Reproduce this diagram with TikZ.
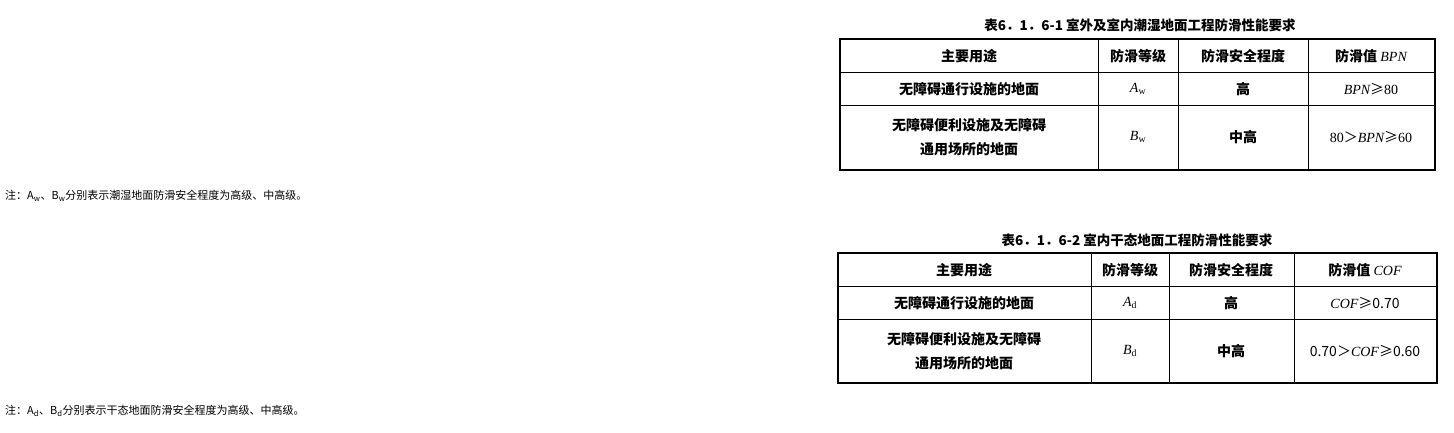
\documentclass[tikz,border=0pt]{standalone}
\usepackage{fontspec}
\setmainfont{Noto Sans CJK SC}
\newfontfamily\ser{Liberation Serif}
\newcommand{\myit}[1]{{\ser\mdseries\itshape #1}}
\newcommand{\myrm}[1]{{\ser\mdseries #1}}
\begin{document}
\begin{tikzpicture}[x=1pt,y=-1pt,
  cell/.style={font=\fontsize{14}{24}\selectfont\bfseries,align=center,inner sep=0},
  ttl/.style={font=\fontsize{13.5}{15}\selectfont\bfseries,inner sep=0},
  note/.style={font=\fontsize{11}{13}\selectfont,anchor=west,inner sep=0},
  outer/.style={line width=1.8pt}, inner/.style={line width=0.9pt}]
\useasboundingbox (0,0) rectangle (1454,432);
% table 1
\node[ttl] (t1) at (1140,25) {表6．1．6-1\ 室外及室内潮湿地面工程防滑性能要求};
\draw[outer] (840,39) rectangle (1435,170);
\draw[inner] (840,72) -- (1435,72) (840,105) -- (1435,105)
  (1098,39) -- (1098,170) (1178,39) -- (1178,170) (1308,39) -- (1308,170);
\node[cell] (a1) at (969,56) {主要用途};
\node[cell] (a2) at (1138,56) {防滑等级};
\node[cell] (a3) at (1243,56) {防滑安全程度};
\node[cell] (a4) at (1371,56) {防滑值 \myit{BPN}};
\node[cell] (b1) at (969,89) {无障碍通行设施的地面};
\node[cell] (b2) at (1138,89) {\myit{A}\myrm{\textsubscript{w}}};
\node[cell] (b3) at (1243,89) {高};
\node[cell] (b4) at (1371,89) {\myit{BPN}{\mdseries≥}\myrm{80}};
\node[cell] (c1) at (969,137) {无障碍便利设施及无障碍\\通用场所的地面};
\node[cell] (c2) at (1138,137) {\myit{B}\myrm{\textsubscript{w}}};
\node[cell] (c3) at (1243,137) {中高};
\node[cell] (c4) at (1371,137) {\myrm{80}{\mdseries＞}\myit{BPN}{\mdseries≥}\myrm{60}};
\node[note] (n1) at (5,196) {注：A\textsubscript{w}、B\textsubscript{w}分别表示潮湿地面防滑安全程度为高级、中高级。};
% table 2
\node[ttl] (t2) at (1137,240) {表6．1．6-2\ 室内干态地面工程防滑性能要求};
\draw[outer] (838,253) rectangle (1437,383);
\draw[inner] (838,286) -- (1437,286) (838,319) -- (1437,319)
  (1091,253) -- (1091,383) (1169,253) -- (1169,383) (1294,253) -- (1294,383);
\node[cell] (d1) at (964,270) {主要用途};
\node[cell] (d2) at (1130,270) {防滑等级};
\node[cell] (d3) at (1231,270) {防滑安全程度};
\node[cell] (d4) at (1365,270) {防滑值 \myit{COF}};
\node[cell] (e1) at (964,303) {无障碍通行设施的地面};
\node[cell] (e2) at (1130,303) {\myit{A}\myrm{\textsubscript{d}}};
\node[cell] (e3) at (1231,303) {高};
\node[cell] (e4) at (1365,303) {\myit{COF}{\mdseries≥0.70}};
\node[cell] (f1) at (964,351) {无障碍便利设施及无障碍\\通用场所的地面};
\node[cell] (f2) at (1130,351) {\myit{B}\myrm{\textsubscript{d}}};
\node[cell] (f3) at (1231,351) {中高};
\node[cell] (f4) at (1365,351) {\mdseries 0.70＞\myit{COF}≥0.60};
\node[note] (n2) at (5,411) {注：A\textsubscript{d}、B\textsubscript{d}分别表示干态地面防滑安全程度为高级、中高级。};
\end{tikzpicture}
\end{document}
